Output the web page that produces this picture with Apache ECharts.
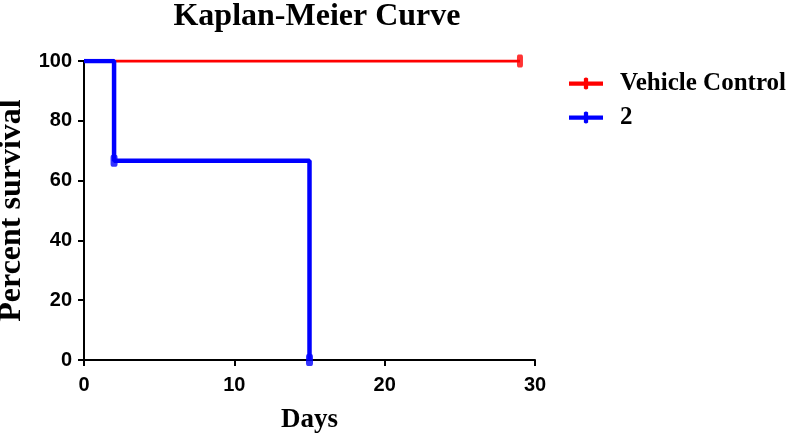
<!DOCTYPE html>
<html>
<head>
<meta charset="utf-8">
<script src="https://cdn.jsdelivr.net/npm/echarts@6/dist/echarts.min.js"></script>
<style>
  html, body { margin: 0; padding: 0; background: #fff; }
  #chart { width: 793px; height: 437px; }
</style>
</head>
<body>
<div id="chart"></div>
<script>
// survival steps: [day, percent]
const vehicleSteps = [[0, 100], [29, 100]];
const groupSteps = [[0, 100], [2, 66.67], [15, 0]];
// censored marks
const vehicleCensor = [[29, 100]];
const groupCensor = [[2, 66.67], [15, 0]];
const seriesNames = ['Vehicle Control', '2'];
const xTicks = [0, 10, 20, 30];
const yTicks = [0, 20, 40, 60, 80, 100];

const serif = "'Liberation Serif', 'Times New Roman', serif";
const sans = "'Liberation Sans', Arial, sans-serif";
// legend icon: line with a small censor tick in the middle
const tickIcon = 'path://M0,7 L21,7 L21,3 Q24,0 27,3 L27,7 L48,7 L48,13 L27,13 L27,17 Q24,20 21,17 L21,13 L0,13 Z';

const chart = echarts.init(document.getElementById('chart'));
chart.setOption({
  animation: false,
  title: {
    text: 'Kaplan-Meier Curve',
    left: 312,
    textAlign: 'center',
    top: -4,
    textStyle: { fontFamily: serif, fontWeight: 'bold', fontSize: 32, color: '#000' }
  },
  legend: {
    left: 564,
    top: 66,
    orient: 'vertical',
    itemWidth: 34,
    itemHeight: 13,
    itemGap: 9,
    data: [
      { name: seriesNames[0], icon: tickIcon },
      { name: seriesNames[1], icon: tickIcon }
    ],
    textStyle: { fontFamily: serif, fontWeight: 'bold', fontSize: 25, color: '#000', padding: [0, 0, 0, 12] }
  },
  grid: { left: 84, right: 258, top: 61, bottom: 77, outerBoundsMode: 'none' },
  xAxis: {
    type: 'value',
    min: xTicks[0],
    max: xTicks[xTicks.length - 1],
    interval: 10,
    name: 'Days',
    nameLocation: 'middle',
    nameGap: 47,
    nameTextStyle: { fontFamily: serif, fontWeight: 'bold', fontSize: 27, color: '#000' },
    axisLine: { lineStyle: { color: '#000', width: 2 } },
    axisTick: { show: true, length: 6, lineStyle: { color: '#000', width: 2 } },
    axisLabel: { fontFamily: sans, fontWeight: 'bold', fontSize: 20, color: '#000', margin: 15 },
    splitLine: { show: false }
  },
  yAxis: {
    type: 'value',
    min: yTicks[0],
    max: yTicks[yTicks.length - 1],
    interval: 20,
    name: 'Percent survival',
    nameLocation: 'middle',
    nameGap: 54,
    nameTextStyle: { fontFamily: serif, fontWeight: 'bold', fontSize: 32, color: '#000' },
    axisLine: { show: true, lineStyle: { color: '#000', width: 2 } },
    axisTick: { show: true, length: 6, lineStyle: { color: '#000', width: 2 } },
    axisLabel: { fontFamily: sans, fontWeight: 'bold', fontSize: 20, color: '#000', margin: 12 },
    splitLine: { show: false }
  },
  series: [
    {
      name: seriesNames[0],
      type: 'line',
      step: 'end',
      data: vehicleSteps,
      showSymbol: false,
      symbol: 'none',
      color: '#ff0000',
      lineStyle: { color: '#ff0000', width: 3 },
      z: 2
    },
    {
      name: seriesNames[1],
      type: 'line',
      step: 'end',
      data: groupSteps,
      showSymbol: false,
      symbol: 'none',
      color: '#0000ff',
      lineStyle: { color: '#0000ff', width: 4.5 },
      z: 3
    },
    {
      name: seriesNames[0],
      type: 'scatter',
      data: vehicleCensor,
      symbol: 'roundRect',
      symbolSize: [6, 13],
      itemStyle: { color: '#ff0000' },
      z: 4
    },
    {
      name: seriesNames[1],
      type: 'scatter',
      data: groupCensor,
      symbol: 'roundRect',
      symbolSize: [7, 12],
      itemStyle: { color: '#0000ff' },
      z: 4
    }
  ]
});
</script>
</body>
</html>
